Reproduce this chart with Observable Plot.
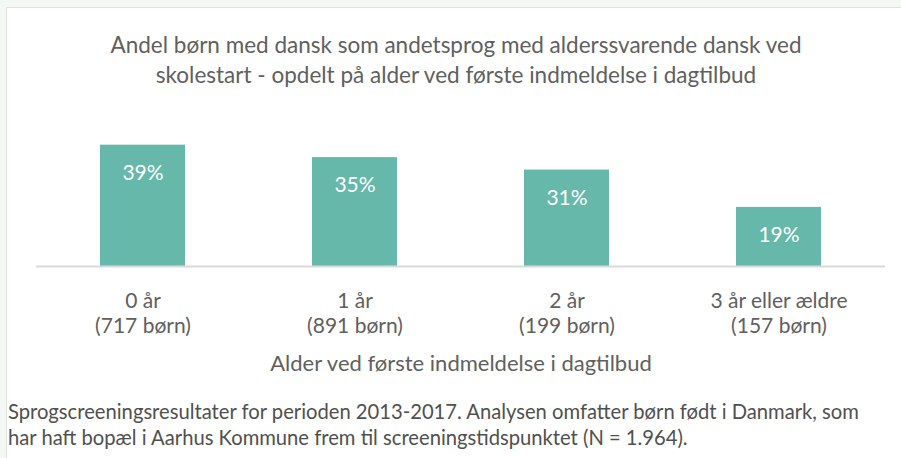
<!DOCTYPE html>
<html>
<head>
<meta charset="utf-8">
<script src="https://cdn.jsdelivr.net/npm/d3@7"></script>
<script src="https://cdn.jsdelivr.net/npm/@observablehq/plot@0.6"></script>
<style>
  html, body { margin: 0; padding: 0; background: #f3f8f5; }
  body { width: 901px; height: 458px; overflow: hidden; position: relative; }
  #panel {
    position: absolute; left: 6px; top: 7px; width: 900px; height: 460px;
    background: #ffffff; border-left: 1px solid #dde4e0; border-top: 1px solid #dde4e0;
    font-family: Lato, sans-serif;
  }
  #title {
    width: 894px; text-align: center; color: #606060; font-size: 22.5px;
    line-height: 30px; padding-top: 22px; height: 60px; margin-left: 2px;
  }
  #caption {
    color: #505050; font-size: 20.2px; line-height: 26px; padding-top: 18px; padding-left: 1px;
    white-space: nowrap;
  }
  svg { display: block; }
</style>
</head>
<body>
<div id="panel">
  <div id="title"></div>
  <div id="chart"></div>
  <div id="caption"></div>
</div>
<script>
const titleLines = [
  "Andel børn med dansk som andetsprog med alderssvarende dansk ved",
  "skolestart - opdelt på alder ved første indmeldelse i dagtilbud"
];
const categories = ["0 år", "1 år", "2 år", "3 år eller ældre"];
const counts = ["(717 børn)", "(891 børn)", "(199 børn)", "(157 børn)"];
const values = [39, 35, 31, 19];
const axisLabel = "Alder ved første indmeldelse i dagtilbud";
const captionLines = [
  "Sprogscreeningsresultater for perioden 2013-2017. Analysen omfatter børn født i Danmark, som",
  "har haft bopæl i Aarhus Kommune frem til screeningstidspunktet (N = 1.964)."
];

document.getElementById("title").innerHTML = titleLines.join("<br>");
document.getElementById("caption").innerHTML = captionLines.join("<br>");

const data = categories.map((c, i) => ({cat: c, value: values[i], count: counts[i]}));
const countMap = new Map(data.map(d => [d.cat, d.count]));

const chart = Plot.plot({
  width: 894,
  height: 290,
  marginLeft: 29,
  marginRight: 16,
  marginTop: 36,
  marginBottom: 114,
  style: {fontFamily: "Lato, sans-serif", background: "white", overflow: "visible"},
  x: {domain: categories, paddingInner: 0.6, paddingOuter: 0.3},
  y: {domain: [0, 45], axis: null},
  marks: [
    Plot.barY(data, {x: "cat", y: "value", fill: "#66b8ab"}),
    Plot.ruleY([0], {stroke: "#d9d9d9", strokeWidth: 2}),
    Plot.text(data, {x: "cat", y: "value", text: d => d.value + "%", dy: 28, fill: "white", fontSize: 21}),
    Plot.axisX({
      tickSize: 0, tickPadding: 24, fontSize: 21, color: "#606060",
      lineHeight: 1.19, label: null,
      tickFormat: d => d + "\n" + countMap.get(d)
    }),
    Plot.text([axisLabel], {frameAnchor: "bottom", dy: 104, fill: "#606060", fontSize: 22})
  ]
});
document.getElementById("chart").appendChild(chart);
</script>
</body>
</html>
